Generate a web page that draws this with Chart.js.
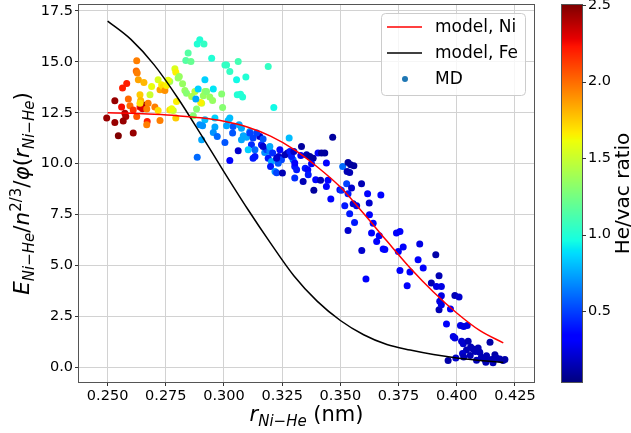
<!DOCTYPE html>
<html>
<head>
<meta charset="utf-8">
<title>Ni-He energy vs distance</title>
<script src="https://cdn.jsdelivr.net/npm/chart.js@4"></script>
<style>
  body { margin: 0; background: #fff; }
</style>
</head>
<body>
<canvas id="myChart" width="631" height="433"></canvas>
<script>
// model curves (r in nm)
const modelR  = [0.25, 0.26, 0.27, 0.28, 0.29, 0.30, 0.31, 0.32, 0.33, 0.34,
                 0.35, 0.36, 0.37, 0.38, 0.39, 0.40, 0.41, 0.42];
const modelNi = [12.5, 12.47, 12.42, 12.35, 12.25, 12.08, 11.8, 11.35, 10.7, 9.85,
                 8.85, 7.55, 6.2, 4.88, 3.7, 2.67, 1.8, 1.2];
const modelFe = [17.0, 16.1, 14.85, 13.25, 11.45, 9.6, 7.8, 6.1, 4.5, 3.25,
                 2.3, 1.6, 1.12, 0.85, 0.63, 0.46, 0.34, 0.24];

// MD points: distance, scaled energy, He/vac ratio
const mdR = [
  0.2496, 0.2531, 0.2531, 0.2546, 0.2560, 0.2564, 0.2582, 0.2574, 0.2578, 0.2567,
  0.2589, 0.2596, 0.2610, 0.2610, 0.2625, 0.2625, 0.2623, 0.2627, 0.2632, 0.2639,
  0.2646, 0.2653, 0.2650, 0.2639, 0.2642, 0.2639, 0.2656, 0.2668, 0.2670, 0.2668,
  0.2674, 0.2682, 0.2689, 0.2703, 0.2717, 0.2717, 0.2725, 0.2725, 0.2732, 0.2739,
  0.2746, 0.2753, 0.2767, 0.2760, 0.2767, 0.2782, 0.2775, 0.2789, 0.2793, 0.2796,
  0.2793, 0.2808, 0.2803, 0.2822, 0.2832, 0.2839, 0.2875, 0.2861, 0.2904, 0.2900,
  0.2882, 0.2868, 0.2846, 0.2836, 0.2858, 0.2885, 0.2896, 0.2914, 0.2947, 0.3004,
  0.3011, 0.3025, 0.3061, 0.3054, 0.3094, 0.3190, 0.2918, 0.2954, 0.2889, 0.2918,
  0.2911, 0.2939, 0.2951, 0.2925, 0.2990, 0.2994, 0.3057, 0.3071, 0.3080, 0.3214,
  0.2879, 0.2918, 0.2961, 0.3018, 0.2961, 0.2954, 0.2971, 0.2904, 0.2908, 0.2896,
  0.2885, 0.3004, 0.3037, 0.3039, 0.3065, 0.3025, 0.3061, 0.3075, 0.3083, 0.3097,
  0.3111, 0.3125, 0.3118, 0.3104, 0.3133, 0.3125, 0.3154, 0.3140, 0.3161, 0.3175,
  0.3183, 0.3197, 0.3190, 0.3204, 0.3200, 0.3219, 0.3226, 0.3240, 0.3235, 0.3247,
  0.3233, 0.3251, 0.3262, 0.3280, 0.3273, 0.3283, 0.3297, 0.3304, 0.3312, 0.3304,
  0.3333, 0.3330, 0.3355, 0.3349, 0.3360, 0.3340, 0.3369, 0.3383, 0.3376, 0.3386,
  0.3394, 0.3404, 0.3419, 0.3433, 0.3440, 0.3447, 0.3415, 0.3467, 0.3459, 0.3440,
  0.3498, 0.3362, 0.3209, 0.3168, 0.3197, 0.3226, 0.3290, 0.3300, 0.3304, 0.3011,
  0.3025, 0.3111, 0.3133, 0.3168, 0.3075, 0.3510, 0.3533, 0.3544, 0.3558, 0.3529,
  0.3540, 0.3527, 0.3548, 0.3591, 0.3504, 0.3519, 0.3533, 0.3555, 0.3570, 0.3617,
  0.3624, 0.3674, 0.3540, 0.3625, 0.3561, 0.3641, 0.3533, 0.3634, 0.3667, 0.3656,
  0.3684, 0.3691, 0.3592, 0.3741, 0.3756, 0.3770, 0.3749, 0.3841, 0.3910, 0.3834,
  0.3610, 0.3787, 0.3756, 0.3799, 0.3856, 0.3891, 0.3924, 0.3913, 0.3934, 0.3934,
  0.3927, 0.3924, 0.3934, 0.3992, 0.4010, 0.3973, 0.3956, 0.4016, 0.4030, 0.4045,
  0.3985, 0.3992, 0.4021, 0.4028, 0.4049, 0.4060, 0.4042, 0.4070, 0.4080, 0.4025,
  0.4058, 0.4092, 0.4099, 0.4143, 0.4106, 0.4128, 0.4149, 0.4164, 0.4171, 0.4185,
  0.4199, 0.4207, 0.4156, 0.4125, 0.3963, 0.3996, 0.4030, 0.4120, 0.4085
];
const mdE = [
  12.24, 13.09, 12.02, 11.37, 12.78, 13.72, 13.93, 12.48, 12.32, 12.10,
  13.17, 12.84, 12.64, 11.50, 12.32, 15.05, 14.55, 14.45, 14.12, 12.78,
  12.80, 12.88, 12.70, 13.38, 13.10, 12.97, 13.99, 12.68, 12.07, 11.91,
  12.97, 13.38, 13.79, 12.78, 14.12, 12.61, 12.12, 13.63, 13.87, 13.78,
  13.59, 13.84, 14.03, 14.10, 12.64, 12.61, 12.70, 14.66, 14.49, 13.05,
  12.24, 14.28, 14.20, 13.92, 13.59, 13.46, 13.54, 13.30, 12.97, 13.00,
  12.68, 12.35, 15.43, 15.06, 15.02, 15.87, 16.08, 15.88, 15.18, 14.85,
  14.85, 14.52, 15.02, 14.12, 14.25, 14.77, 14.12, 13.66, 13.66, 13.54,
  13.33, 13.27, 13.10, 13.54, 13.42, 12.76, 13.38, 13.41, 13.27, 12.76,
  13.17, 12.15, 12.24, 12.12, 11.80, 11.53, 11.33, 11.17, 11.86, 11.91,
  10.32, 11.04, 11.50, 11.83, 11.91, 10.16, 10.63, 11.17, 11.37, 11.30,
  11.58, 11.26, 10.93, 10.68, 10.68, 10.27, 11.33, 11.50, 10.93, 10.55,
  10.68, 10.60, 10.27, 10.11, 9.86, 9.62, 9.55, 10.68, 10.35, 10.19,
  10.02, 9.54, 10.44, 11.26, 10.52, 10.60, 10.19, 9.86, 9.70, 9.29,
  10.84, 10.40, 10.44, 9.78, 9.70, 9.13, 10.35, 10.27, 10.00, 8.69,
  9.21, 10.52, 10.52, 10.52, 10.03, 9.18, 9.18, 11.30, 8.26, 8.88,
  8.72, 9.46, 10.52, 10.84, 10.84, 10.27, 10.35, 10.60, 10.03, 11.86,
  12.24, 11.50, 10.35, 11.21, 11.74, 9.86, 10.06, 9.95, 9.90, 9.62,
  9.57, 9.01, 8.80, 9.01, 8.69, 7.93, 8.52, 8.03, 7.93, 8.52,
  8.07, 8.46, 7.54, 7.49, 7.11, 7.08, 6.72, 6.59, 6.46, 6.18,
  5.81, 5.78, 5.74, 6.59, 6.67, 5.91, 5.69, 6.05, 5.53, 5.28,
  4.34, 4.01, 4.76, 4.68, 4.88, 4.14, 4.50, 3.97, 3.97, 3.52,
  3.24, 2.83, 3.07, 3.53, 3.45, 2.87, 2.13, 2.05, 2.01, 2.05,
  1.52, 1.44, 1.28, 1.16, 1.28, 1.00, 0.85, 0.90, 0.78, 0.68,
  0.58, 0.95, 0.74, 1.23, 0.49, 0.57, 0.38, 0.62, 0.46, 0.41,
  0.33, 0.38, 0.22, 0.25, 0.34, 0.46, 0.51, 0.40, 0.35
];
const mdRatio = [
  2.45, 2.45, 2.45, 2.5, 2.25, 2.2, 2.2, 2.4, 2.4, 2.45,
  2.0, 2.0, 2.15, 2.45, 2.05, 1.95, 2.0, 1.95, 1.85, 2.25,
  2.4, 2.45, 2.3, 1.75, 1.8, 1.7, 1.8, 1.95, 2.2, 1.95,
  1.95, 1.5, 1.6, 1.95, 1.55, 1.7, 1.95, 1.85, 1.65, 1.7,
  1.9, 1.65, 1.4, 1.6, 1.7, 1.5, 1.6, 1.55, 1.65, 1.65,
  1.75, 1.35, 1.35, 1.35, 1.35, 1.3, 1.45, 1.4, 1.5, 1.65,
  1.3, 1.3, 1.15, 1.15, 1.2, 1.0, 1.0, 1.05, 1.0, 1.05,
  1.05, 1.05, 1.1, 0.95, 1.0, 1.05, 0.85, 0.9, 0.85, 1.35,
  1.35, 1.35, 1.35, 1.3, 1.3, 1.3, 1.0, 1.0, 1.0, 0.95,
  0.75, 0.8, 0.85, 0.8, 0.75, 0.7, 0.6, 0.75, 0.7, 0.7,
  0.6, 0.55, 0.55, 0.55, 0.75, 0.35, 0.2, 0.75, 0.75, 0.75,
  0.75, 0.5, 0.45, 0.85, 0.6, 0.4, 0.2, 0.5, 0.4, 0.7,
  0.5, 0.65, 0.4, 0.75, 0.4, 0.7, 0.5, 0.35, 0.2, 0.5,
  0.55, 0.15, 0.15, 0.8, 0.15, 0.4, 0.6, 0.4, 0.4, 0.45,
  0.1, 0.3, 0.15, 0.4, 0.35, 0.15, 0.1, 0.1, 0.3, 0.1,
  0.35, 0.35, 0.1, 0.1, 0.35, 0.35, 0.15, 0.1, 0.35, 0.35,
  0.35, 0.4, 0.45, 0.2, 0.75, 0.2, 0.4, 0.2, 0.3, 0.75,
  0.8, 0.5, 0.4, 0.55, 0.75, 0.6, 0.1, 0.1, 0.1, 0.15,
  0.15, 0.5, 0.2, 0.15, 0.45, 0.4, 0.4, 0.2, 0.25, 0.35,
  0.2, 0.35, 0.4, 0.35, 0.4, 0.35, 0.2, 0.35, 0.35, 0.35,
  0.35, 0.35, 0.2, 0.3, 0.3, 0.3, 0.3, 0.25, 0.12, 0.3,
  0.3, 0.3, 0.3, 0.3, 0.3, 0.15, 0.15, 0.25, 0.25, 0.25,
  0.25, 0.15, 0.25, 0.15, 0.2, 0.3, 0.3, 0.25, 0.25, 0.25,
  0.25, 0.25, 0.2, 0.2, 0.15, 0.15, 0.15, 0.15, 0.15, 0.2,
  0.15, 0.15, 0.15, 0.12, 0.15, 0.15, 0.15, 0.12, 0.15, 0.15,
  0.12, 0.12, 0.15, 0.15, 0.12, 0.2, 0.15, 0.15, 0.15
];

// colour bar limits
const cbarMin = 0.036;
const cbarMax = 2.5;

// matplotlib "jet" colormap, piecewise linear
const jetR = [[0, 0], [0.35, 0], [0.66, 1], [0.89, 1], [1, 0.5]];
const jetG = [[0, 0], [0.125, 0], [0.375, 1], [0.64, 1], [0.91, 0], [1, 0]];
const jetB = [[0, 0.5], [0.11, 1], [0.34, 1], [0.65, 0], [1, 0]];
function interp(pts, t) {
  for (let i = 1; i < pts.length; i++) {
    if (t <= pts[i][0]) {
      const a = pts[i - 1], b = pts[i];
      return a[1] + (b[1] - a[1]) * (t - a[0]) / (b[0] - a[0]);
    }
  }
  return pts[pts.length - 1][1];
}
function jet(v) {
  let t = (v - cbarMin) / (cbarMax - cbarMin);
  t = Math.max(0, Math.min(1, t));
  const r = Math.round(255 * interp(jetR, t));
  const g = Math.round(255 * interp(jetG, t));
  const b = Math.round(255 * interp(jetB, t));
  return 'rgb(' + r + ',' + g + ',' + b + ')';
}

// draws a label made of several pieces (italic, sub/superscripts)
function richText(ctx, parts, x, y, rotated) {
  ctx.save();
  ctx.translate(x, y);
  if (rotated) ctx.rotate(-Math.PI / 2);
  let total = 0;
  parts.forEach(p => {
    ctx.font = (p.it ? 'italic ' : '') + p.size + 'px "DejaVu Sans"';
    p.w = ctx.measureText(p.t).width;
    total += p.w;
  });
  let cx = -total / 2;
  ctx.fillStyle = '#000';
  ctx.textAlign = 'left';
  ctx.textBaseline = 'alphabetic';
  parts.forEach(p => {
    ctx.font = (p.it ? 'italic ' : '') + p.size + 'px "DejaVu Sans"';
    ctx.fillText(p.t, cx, p.dy || 0);
    cx += p.w;
  });
  ctx.restore();
}

const decorations = {
  id: 'decorations',
  afterDraw(chart) {
    const ctx = chart.ctx;
    const a = chart.chartArea;
    ctx.save();

    // axes frame
    ctx.strokeStyle = '#555';
    ctx.lineWidth = 1;
    ctx.strokeRect(Math.round(a.left) - 0.5, Math.round(a.top) - 0.5,
                   Math.round(a.width) + 1, Math.round(a.height) + 1);

    // colour bar
    const cb = chart.scales.cbar;
    const barX = cb.left + 28, barW = 20;
    for (let y = Math.floor(cb.top); y < Math.ceil(cb.bottom); y++) {
      ctx.fillStyle = jet(cb.getValueForPixel(y + 0.5));
      ctx.fillRect(barX, y, barW, 1);
    }
    ctx.strokeStyle = '#555';
    ctx.strokeRect(barX - 0.5, Math.round(cb.top) - 0.5, barW + 1, Math.round(cb.bottom - cb.top) + 1);
    ctx.strokeStyle = '#333';
    cb.ticks.forEach(t => {
      const y = Math.round(cb.getPixelForValue(t.value)) + 0.5;
      ctx.beginPath();
      ctx.moveTo(barX + barW, y);
      ctx.lineTo(barX + barW + 4, y);
      ctx.stroke();
    });
    richText(ctx, [{t: 'He/vac ratio', size: 20}], 629, (cb.top + cb.bottom) / 2, true);

    // axis titles
    richText(ctx, [
      {t: 'r', size: 21, it: true},
      {t: 'Ni\u2212He', size: 15, it: true, dy: 5},
      {t: ' (nm)', size: 21}
    ], (a.left + a.right) / 2, 421, false);
    richText(ctx, [
      {t: 'E', size: 21.5, it: true},
      {t: 'Ni\u2212He', size: 15, it: true, dy: 5},
      {t: '/', size: 21.5},
      {t: 'n', size: 21.5, it: true},
      {t: '2/3', size: 15, dy: -8},
      {t: '/', size: 21.5},
      {t: '\u03C6', size: 21.5, it: true},
      {t: '(', size: 21.5},
      {t: 'r', size: 21.5, it: true},
      {t: 'Ni\u2212He', size: 15, it: true, dy: 5},
      {t: ')', size: 21.5}
    ], 29, (a.top + a.bottom) / 2, true);

    // legend box (upper right)
    const lx = a.right - 153, ly = a.top + 8, lw = 144, lh = 82;
    ctx.beginPath();
    ctx.roundRect(lx + 0.5, ly + 0.5, lw, lh, 4);
    ctx.fillStyle = 'rgba(255,255,255,0.8)';
    ctx.fill();
    ctx.strokeStyle = '#cccccc';
    ctx.stroke();
    const rows = [ly + 14, ly + 40, ly + 66];
    const ds = chart.data.datasets;
    [0, 1].forEach(i => {
      ctx.strokeStyle = ds[i].borderColor;
      ctx.lineWidth = 1.5;
      ctx.beginPath();
      ctx.moveTo(lx + 6, rows[i]);
      ctx.lineTo(lx + 41, rows[i]);
      ctx.stroke();
    });
    ctx.fillStyle = '#1f77b4';
    ctx.beginPath();
    ctx.arc(lx + 24, rows[2], 3, 0, 2 * Math.PI);
    ctx.fill();
    ctx.fillStyle = '#000';
    ctx.font = '17px "DejaVu Sans"';
    ctx.textBaseline = 'middle';
    ctx.textAlign = 'left';
    ds.forEach((d, i) => ctx.fillText(d.label, lx + 54, rows[i] + 1));
    ctx.restore();
  }
};

const tickFont = {family: 'DejaVu Sans', size: 14.5};

function init() {
  const ctx = document.getElementById('myChart').getContext('2d');
  new Chart(ctx, {
    type: 'scatter',
    data: {
      datasets: [{
        label: 'model, Ni',
        data: modelR.map((r, i) => ({x: r, y: modelNi[i]})),
        showLine: true,
        borderColor: '#ff0000',
        borderWidth: 1.5,
        pointRadius: 0,
        cubicInterpolationMode: 'monotone',
        order: 0
      }, {
        label: 'model, Fe',
        data: modelR.map((r, i) => ({x: r, y: modelFe[i]})),
        showLine: true,
        borderColor: '#000000',
        borderWidth: 1.5,
        pointRadius: 0,
        cubicInterpolationMode: 'monotone',
        order: 0
      }, {
        label: 'MD',
        data: mdR.map((r, i) => ({x: r, y: mdE[i]})),
        backgroundColor: mdRatio.map(jet),
        borderWidth: 0,
        pointRadius: 3.5,
        order: 1
      }]
    },
    options: {
      responsive: false,
      animation: false,
      layout: {padding: {top: 5, left: 0, right: 0, bottom: 0}},
      plugins: {legend: {display: false}, tooltip: {enabled: false}},
      scales: {
        x: {
          type: 'linear',
          min: 0.2377,
          max: 0.4332,
          afterFit(s) { s.height = 51; s.paddingLeft = 0; s.paddingRight = 0; },
          border: {display: false},
          grid: {color: '#d2d2d2', tickColor: '#333', tickLength: 4},
          ticks: {
            stepSize: 0.025, includeBounds: false, autoSkip: false, maxRotation: 0,
            padding: 2, color: '#000', font: tickFont,
            callback: v => v.toFixed(3)
          }
        },
        y: {
          type: 'linear',
          min: -0.72,
          max: 17.79,
          afterFit(s) { s.width = 79; s.paddingTop = 0; s.paddingBottom = 0; },
          border: {display: false},
          grid: {color: '#d2d2d2', tickColor: '#333', tickLength: 4},
          ticks: {
            stepSize: 2.5, includeBounds: false, padding: 2, color: '#000', font: tickFont,
            callback: v => v.toFixed(1)
          }
        },
        cbar: {
          type: 'linear',
          position: 'right',
          min: cbarMin,
          max: cbarMax,
          afterFit(s) { s.width = 97; s.paddingTop = 0; s.paddingBottom = 0; },
          border: {display: false},
          grid: {display: false, drawTicks: false, drawOnChartArea: false},
          ticks: {
            stepSize: 0.5, includeBounds: false, padding: 54, color: '#000', font: tickFont,
            callback: v => v.toFixed(1)
          }
        }
      }
    },
    plugins: [decorations]
  });
}
document.addEventListener('DOMContentLoaded', init);
</script>
</body>
</html>
